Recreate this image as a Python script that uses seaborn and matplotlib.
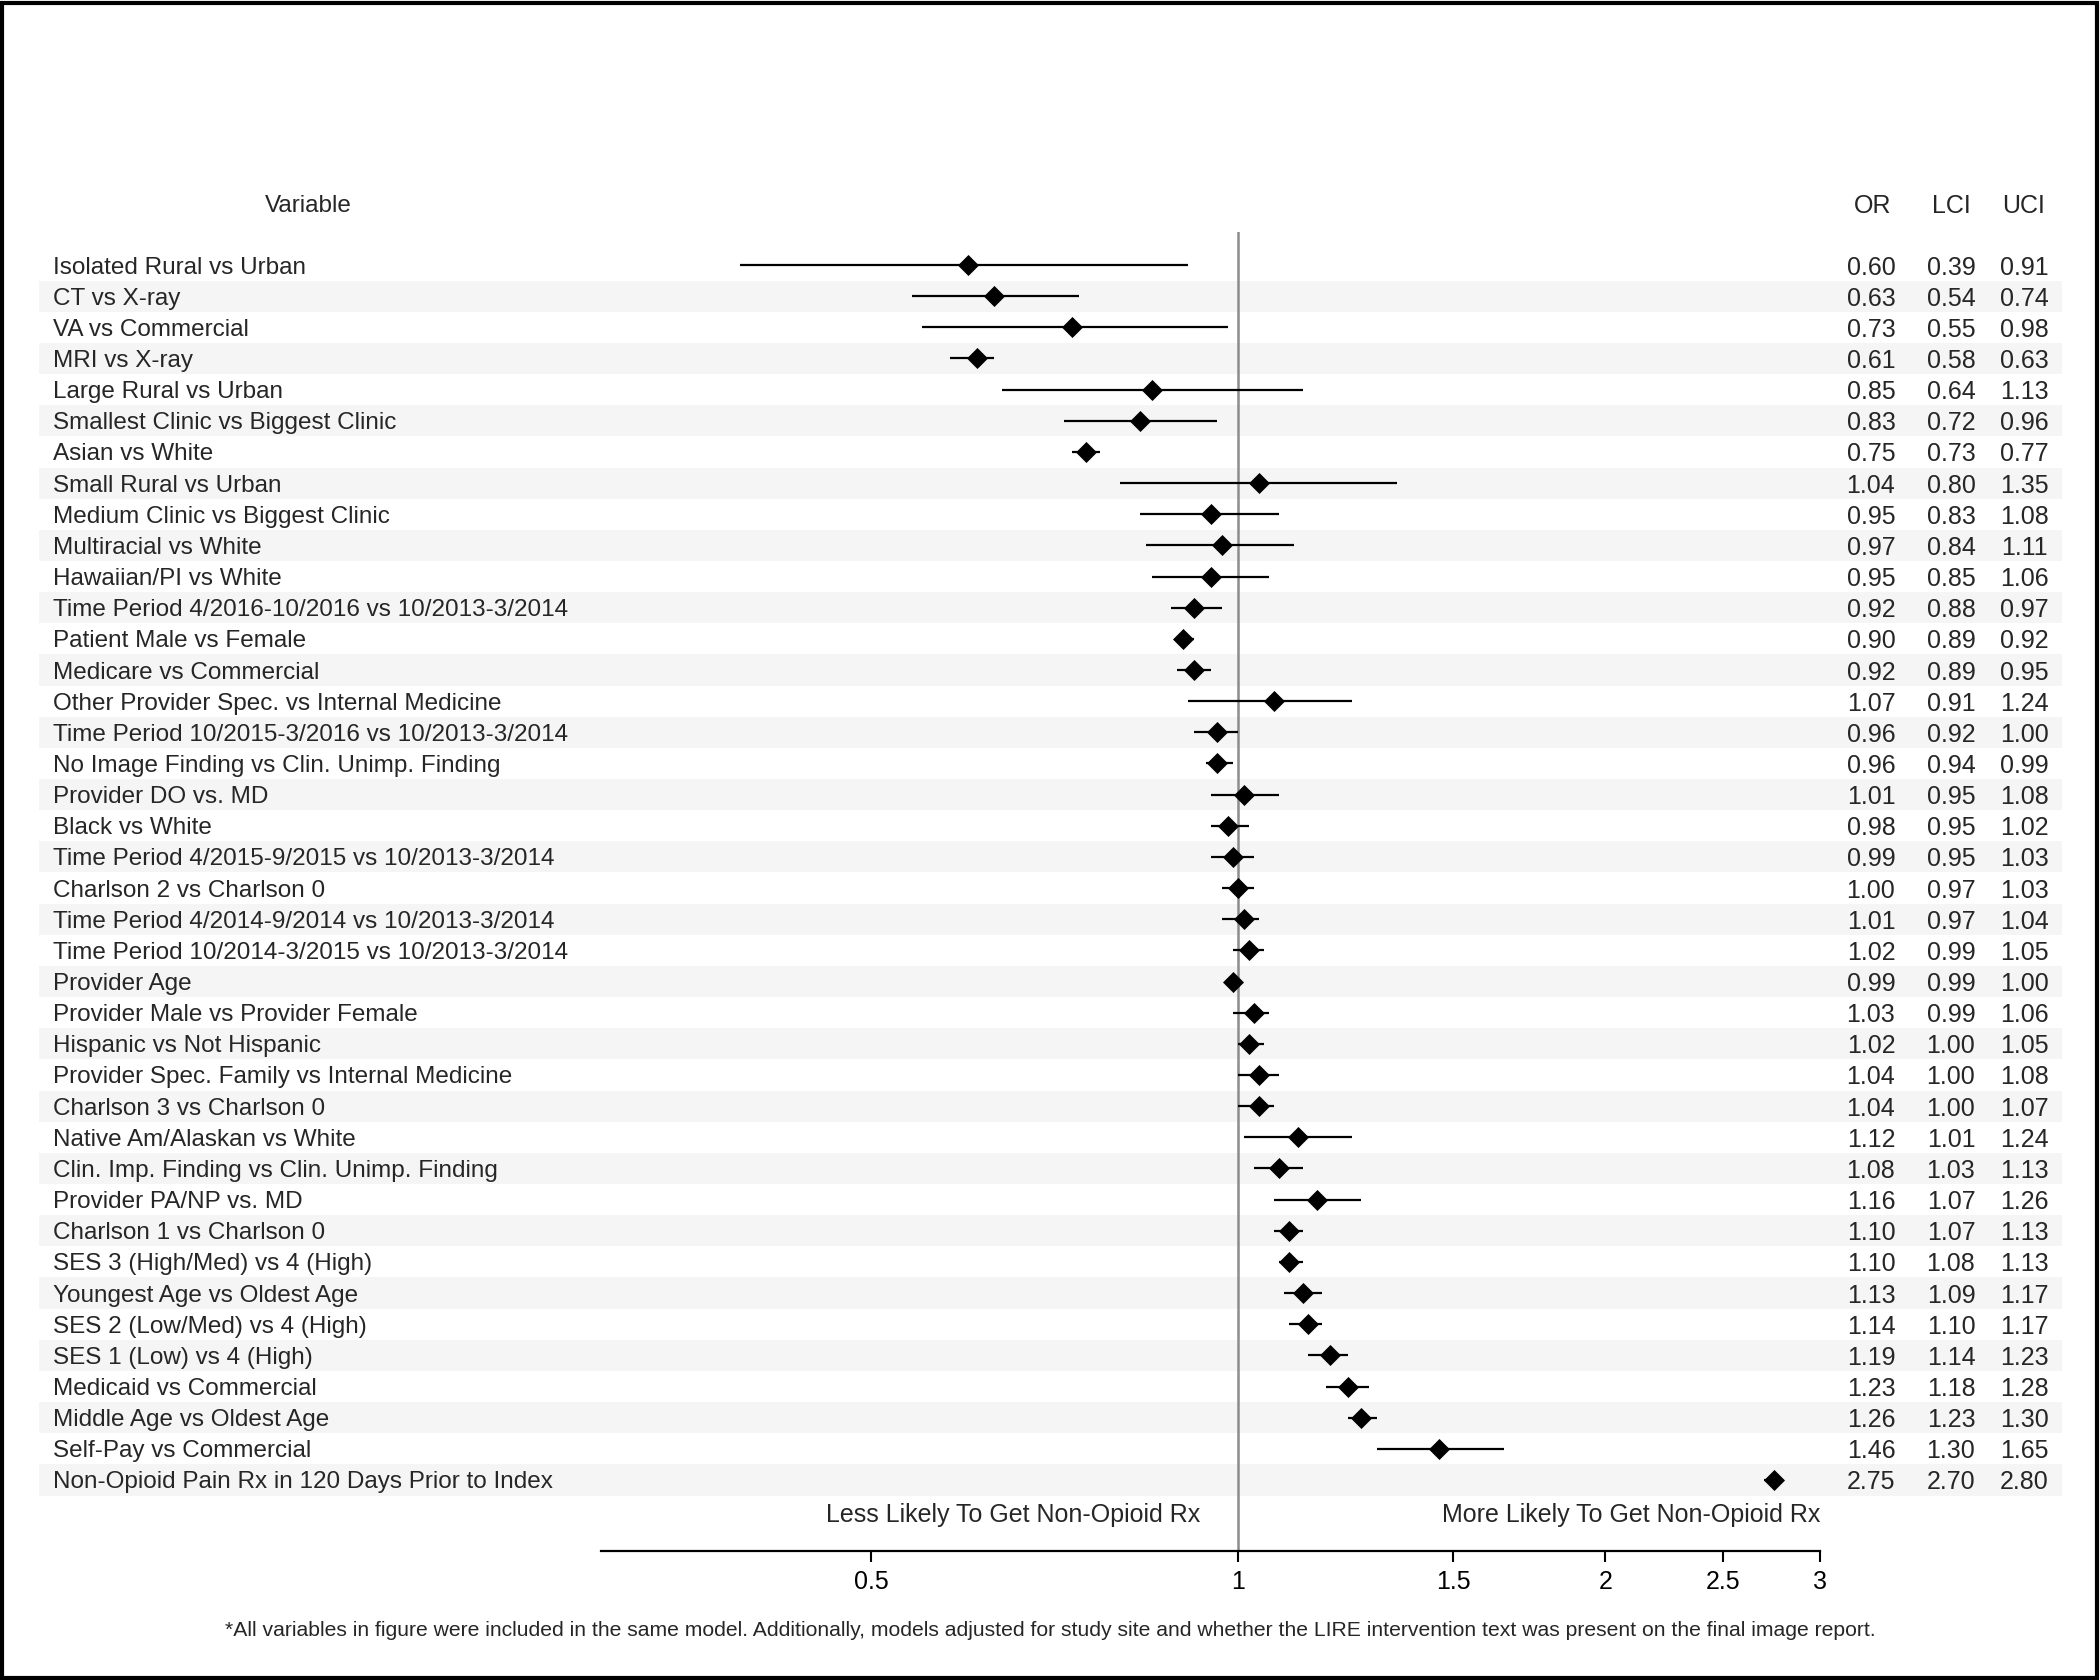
import numpy as np
import pandas as pd
import matplotlib.pyplot as plt
import matplotlib.transforms as mtransforms
from matplotlib.patches import Rectangle
from matplotlib.ticker import NullLocator
import seaborn as sns

variables = [
    'Isolated Rural vs Urban', 'CT vs X-ray', 'VA vs Commercial', 'MRI vs X-ray',
    'Large Rural vs Urban', 'Smallest Clinic vs Biggest Clinic', 'Asian vs White',
    'Small Rural vs Urban', 'Medium Clinic vs Biggest Clinic', 'Multiracial vs White',
    'Hawaiian/PI vs White', 'Time Period 4/2016-10/2016 vs 10/2013-3/2014',
    'Patient Male vs Female', 'Medicare vs Commercial',
    'Other Provider Spec. vs Internal Medicine',
    'Time Period 10/2015-3/2016 vs 10/2013-3/2014',
    'No Image Finding vs Clin. Unimp. Finding', 'Provider DO vs. MD', 'Black vs White',
    'Time Period 4/2015-9/2015 vs 10/2013-3/2014', 'Charlson 2 vs Charlson 0',
    'Time Period 4/2014-9/2014 vs 10/2013-3/2014',
    'Time Period 10/2014-3/2015 vs 10/2013-3/2014', 'Provider Age',
    'Provider Male vs Provider Female', 'Hispanic vs Not Hispanic',
    'Provider Spec. Family vs Internal Medicine', 'Charlson 3 vs Charlson 0',
    'Native Am/Alaskan vs White', 'Clin. Imp. Finding vs Clin. Unimp. Finding',
    'Provider PA/NP vs. MD', 'Charlson 1 vs Charlson 0', 'SES 3 (High/Med) vs 4 (High)',
    'Youngest Age vs Oldest Age', 'SES 2 (Low/Med) vs 4 (High)', 'SES 1 (Low) vs 4 (High)',
    'Medicaid vs Commercial', 'Middle Age vs Oldest Age', 'Self-Pay vs Commercial',
    'Non-Opioid Pain Rx in 120 Days Prior to Index',
]
odds_ratio = [0.60, 0.63, 0.73, 0.61, 0.85, 0.83, 0.75, 1.04, 0.95, 0.97,
              0.95, 0.92, 0.90, 0.92, 1.07, 0.96, 0.96, 1.01, 0.98, 0.99,
              1.00, 1.01, 1.02, 0.99, 1.03, 1.02, 1.04, 1.04, 1.12, 1.08,
              1.16, 1.10, 1.10, 1.13, 1.14, 1.19, 1.23, 1.26, 1.46, 2.75]
lower_ci = [0.39, 0.54, 0.55, 0.58, 0.64, 0.72, 0.73, 0.80, 0.83, 0.84,
            0.85, 0.88, 0.89, 0.89, 0.91, 0.92, 0.94, 0.95, 0.95, 0.95,
            0.97, 0.97, 0.99, 0.99, 0.99, 1.00, 1.00, 1.00, 1.01, 1.03,
            1.07, 1.07, 1.08, 1.09, 1.10, 1.14, 1.18, 1.23, 1.30, 2.70]
upper_ci = [0.91, 0.74, 0.98, 0.63, 1.13, 0.96, 0.77, 1.35, 1.08, 1.11,
            1.06, 0.97, 0.92, 0.95, 1.24, 1.00, 0.99, 1.08, 1.02, 1.03,
            1.03, 1.04, 1.05, 1.00, 1.06, 1.05, 1.08, 1.07, 1.24, 1.13,
            1.26, 1.13, 1.13, 1.17, 1.17, 1.23, 1.28, 1.30, 1.65, 2.80]
x_ticks = [0.5, 1, 1.5, 2, 2.5, 3]
x_tick_labels = ['0.5', '1', '1.5', '2', '2.5', '3']

FOOTNOTE = ('*All variables in figure were included in the same model. Additionally, models '
            'adjusted for study site and whether the LIRE intervention text was present on '
            'the final image report.')

W, H = 2100, 1680  # output size in px (dpi 100)


def main():
    sns.set_theme(style='white')
    plt.rcParams['font.family'] = ['Liberation Sans', 'DejaVu Sans']

    df = pd.DataFrame({'variable': variables, 'or': odds_ratio,
                       'lci': lower_ci, 'uci': upper_ci})
    df['row'] = np.arange(len(df))
    n = len(df)

    fig = plt.figure(figsize=(W / 100, H / 100), dpi=100)
    ax = fig.add_axes([601 / W, 1 - 1551 / H, (1820 - 601) / W, (1551 - 232) / H])
    ax.patch.set_alpha(0)
    ax.set_xscale('log')
    ax.set_xlim(0.3, 3)
    ax.set_ylim(n - 1 + 2.28, -1.06)

    # x in figure fraction, y in row units
    trans = mtransforms.blended_transform_factory(fig.transFigure, ax.transData)

    # alternating row shading
    for r in df['row'][1::2]:
        ax.add_patch(Rectangle((39 / W, r - 0.5), (2062 - 39) / W, 1, transform=trans,
                               facecolor='#f5f5f5', edgecolor='none', zorder=0, clip_on=False))

    ax.axvline(1, color='#8c8c8c', lw=1.8, zorder=1)
    ax.hlines(df['row'], df['lci'], df['uci'], color='black', lw=1.6, zorder=2)
    sns.scatterplot(data=df, x='or', y='row', marker='D', s=115, color='black',
                    edgecolor='black', linewidth=0, ax=ax, zorder=3, legend=False)

    # --- Axis formatting ---
    sns.despine(ax=ax, left=True)
    ax.spines['bottom'].set_linewidth(1.6)
    ax.spines['bottom'].set_color('black')
    ax.set_xticks(x_ticks)
    ax.set_xticklabels(x_tick_labels)
    ax.xaxis.set_minor_locator(NullLocator())
    ax.tick_params(axis='x', bottom=True, direction='out', length=8, width=1.5,
                   color='black', labelsize=18, pad=6, labelcolor='black')
    ax.set_yticks([])
    ax.set_xlabel('')
    ax.set_ylabel('')

    # --- Table text ---
    fs = 18
    fs_label = 17.5
    va = 'center_baseline'
    ax.text(308 / W, -1.96, 'Variable', transform=trans, ha='center', va=va, fontsize=fs_label)
    for label, xpos in [('OR', 1873), ('LCI', 1951), ('UCI', 2024)]:
        ax.text(xpos / W, -1.96, label, transform=trans, ha='center', va=va, fontsize=fs)

    for _, row in df.iterrows():
        ax.text(53 / W, row['row'], row['variable'], transform=trans,
                ha='left', va=va, fontsize=fs_label)
        for col, xpos in [('or', 1871), ('lci', 1951), ('uci', 2024)]:
            ax.text(xpos / W, row['row'], f"{row[col]:.2f}", transform=trans,
                    ha='center', va=va, fontsize=fs)

    ytxt = mtransforms.blended_transform_factory(ax.transAxes, ax.transData)
    ax.text(0.4914, n + 0.03, 'Less Likely To Get Non-Opioid Rx', transform=ytxt,
            ha='right', va=va, fontsize=fs)
    ax.text(1.0, n + 0.03, 'More Likely To Get Non-Opioid Rx', transform=ytxt,
            ha='right', va=va, fontsize=fs)

    fig.text(0.5, 1 - 1631 / H, FOOTNOTE, ha='center', va='center', fontsize=15.2)

    # figure border
    fig.patches.append(Rectangle((2 / W, 2 / H), 1 - 5 / W, 1 - 5 / H, transform=fig.transFigure,
                                 fill=False, edgecolor='black', lw=3))

    fig.savefig('out.png', dpi=100)
    plt.close(fig)


if __name__ == '__main__':
    main()
